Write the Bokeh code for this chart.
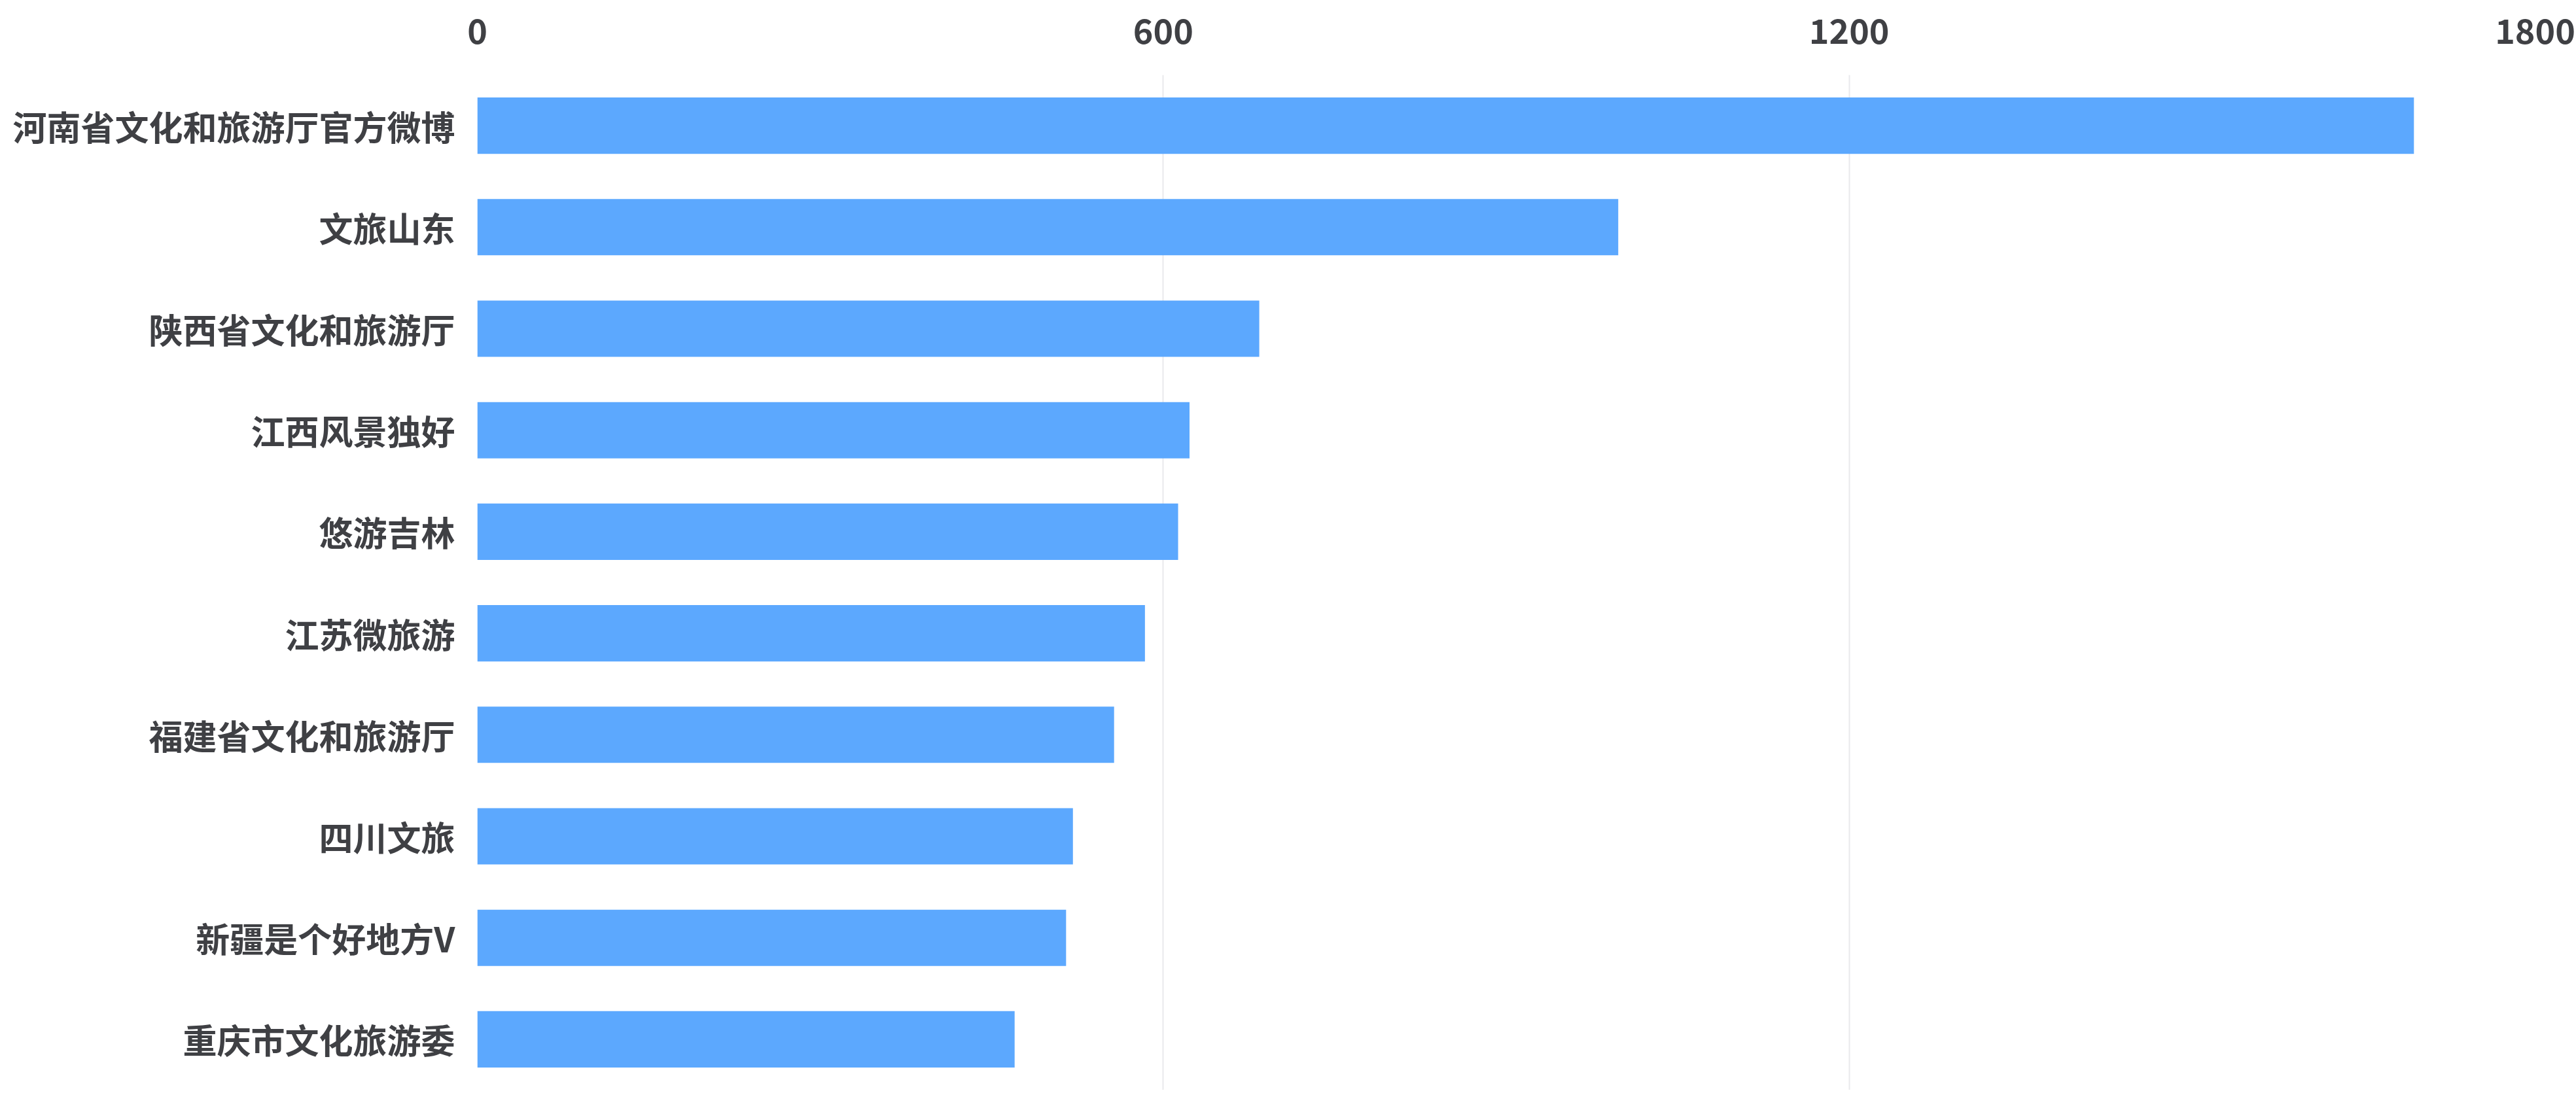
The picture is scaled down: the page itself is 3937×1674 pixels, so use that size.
from bokeh.plotting import figure
from bokeh.models import ColumnDataSource, FixedTicker, FactorRange
from bokeh.embed import file_html
from bokeh.resources import INLINE

categories = ["河南省文化和旅游厅官方微博", "文旅山东", "陕西省文化和旅游厅", "江西风景独好",
              "悠游吉林", "江苏微旅游", "福建省文化和旅游厅", "四川文旅",
              "新疆是个好地方V", "重庆市文化旅游委"]
values = [1694, 998, 684, 623, 613, 584, 557, 521, 515, 470]
x_ticks = [0, 600, 1200, 1800]

src = ColumnDataSource(dict(cat=categories, val=values))

p = figure(width=3937, height=1666, output_backend="svg", toolbar_location=None,
           y_range=FactorRange(factors=list(reversed(categories)), range_padding=0),
           x_range=(0, 1800), x_axis_location="above",
           min_border_left=729, min_border_right=63, min_border_top=114, min_border_bottom=0)
p.hbar(y="cat", right="val", left=0, height=0.555, source=src,
       fill_color="#5ca8fe", line_color=None)

p.outline_line_color = None
p.background_fill_color = "white"
p.border_fill_color = "white"

p.ygrid.grid_line_color = None
p.xgrid.grid_line_color = "#e9e9ec"
p.xgrid.grid_line_width = 2
p.xaxis.ticker = FixedTicker(ticks=x_ticks)

for ax in (p.xaxis[0], p.yaxis[0]):
    ax.axis_line_color = None
    ax.major_tick_line_color = None
    ax.minor_tick_line_color = None
    ax.major_tick_out = 0
    ax.major_tick_in = 0
    ax.major_label_text_font = "Noto Sans CJK SC"
    ax.major_label_text_font_style = "bold"
    ax.major_label_text_font_size = "52px"
    ax.major_label_text_color = "#3f4044"

p.yaxis.major_label_standoff = 34
p.xaxis.major_label_standoff = 48

open("out.html", "w").write(file_html(p, INLINE))
